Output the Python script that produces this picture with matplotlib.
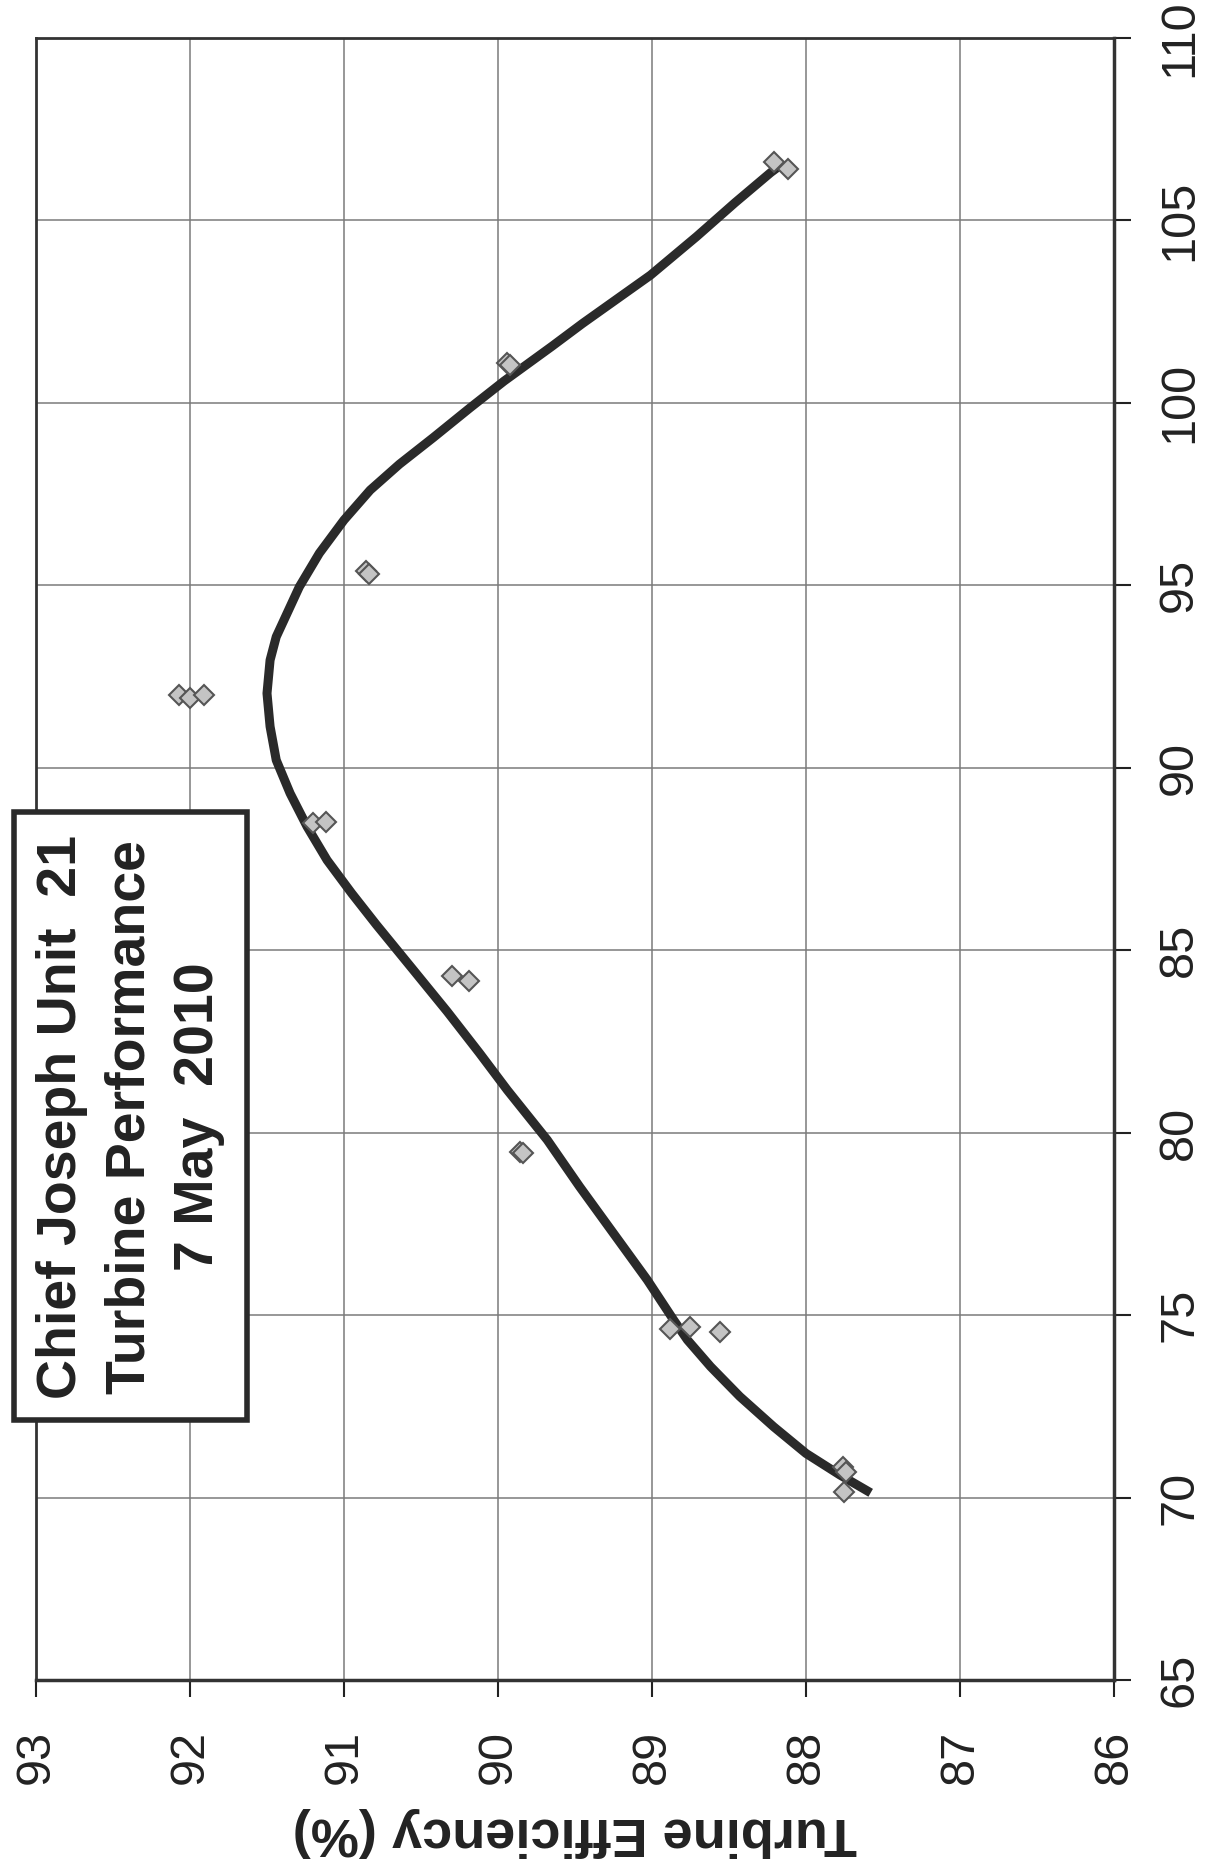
import matplotlib
matplotlib.use("Agg")
import matplotlib.pyplot as plt
from matplotlib.patches import Rectangle

# ---- data (load on the rotated vertical axis, efficiency on horizontal) ----
point_load = [92.0, 91.9, 92.0, 88.48, 88.52, 95.4, 95.3, 101.1, 101.05,
              106.6, 106.41, 84.3, 84.16, 79.48, 79.44, 74.61, 74.67, 74.53,
              70.85, 70.7, 70.16]
point_eff = [92.07, 92.0, 91.91, 91.20, 91.12, 90.86, 90.84, 89.94, 89.92,
             88.21, 88.12, 90.30, 90.19, 89.86, 89.84, 88.88, 88.75, 88.56,
             87.76, 87.74, 87.75]

curve_load = [70.13, 70.62, 71.21, 71.94, 72.77, 73.59, 74.32, 74.87, 75.96,
              77.24, 78.52, 79.80, 81.17, 82.18, 83.32, 84.46, 85.70, 86.56,
              87.47, 88.39, 89.30, 90.21, 91.13, 92.04, 92.95, 93.59, 94.96,
              95.88, 96.79, 97.61, 98.32, 99.05, 99.87, 100.60, 101.55,
              102.18, 103.50, 104.56, 105.49, 106.31, 106.50]
curve_eff = [87.58, 87.78, 88.00, 88.21, 88.43, 88.62, 88.77, 88.86, 89.03,
             89.25, 89.47, 89.68, 89.94, 90.12, 90.33, 90.55, 90.79, 90.95,
             91.11, 91.24, 91.35, 91.44, 91.48, 91.50, 91.48, 91.44, 91.29,
             91.16, 91.00, 90.83, 90.64, 90.42, 90.18, 89.96, 89.65,
             89.45, 89.01, 88.71, 88.46, 88.23, 88.17]

eff_ticks = [86, 87, 88, 89, 90, 91, 92, 93]
load_ticks = [65, 70, 75, 80, 85, 90, 95, 100, 105, 110]
eff_label = "Turbine Efficiency (%)"
title_lines = ["Chief Joseph Unit  21", "Turbine Performance", "7 May  2010"]

FONT = ["Liberation Sans", "DejaVu Sans"]

W, H = 1214, 1872
fig = plt.figure(figsize=(W / 100, H / 100), dpi=100)
ax = fig.add_axes([36 / W, 1 - 1680 / H, (1114 - 36) / W, (1680 - 38) / H])

ax.plot(curve_eff, curve_load, color="#2a2a2a", lw=6.5, solid_capstyle="butt",
        solid_joinstyle="round", zorder=3)
ax.plot(point_eff, point_load, linestyle="none", marker="D", markersize=10.5,
        markerfacecolor="#c4c4c4", markeredgecolor="#555555", markeredgewidth=1.5, zorder=4)

ax.set_xlim(93, 86)
ax.set_ylim(65, 110)
ax.set_xticks(eff_ticks)
ax.set_yticks(load_ticks)
ax.yaxis.tick_right()
ax.grid(True, color="#7a7a7a", lw=1.1)
ax.set_axisbelow(True)

ax.tick_params(axis="both", direction="out", length=12, width=1.5, colors="#222222")
ax.tick_params(axis="x", pad=24)
ax.tick_params(axis="y", pad=19)
for lab in ax.get_xticklabels():
    lab.set_rotation(90)
    lab.set_fontsize(35)
    lab.set_family(FONT)
    lab.set_color("#222222")
    lab.set_va("top")
    lab.set_ha("center")
for lab in ax.get_yticklabels():
    lab.set_rotation(90)
    lab.set_fontsize(35)
    lab.set_family(FONT)
    lab.set_color("#222222")
    lab.set_va("center")
    lab.set_ha("left")

for side, lw in [("left", 2.0), ("top", 2.0), ("right", 2.5), ("bottom", 2.5)]:
    ax.spines[side].set_linewidth(lw)
    ax.spines[side].set_color("#333333")

fig.text(575 / W, 1 - 1832 / H, eff_label, rotation=180, ha="center", va="center",
         fontsize=39, fontweight="bold", family=FONT, color="#222222")

# title box
box = Rectangle((14 / W, 1 - 1420 / H), (247 - 14) / W, (1420 - 812) / H,
                transform=fig.transFigure, facecolor="white", edgecolor="#2a2a2a",
                lw=4, zorder=5)
fig.add_artist(box)
for xc, line in zip([62, 131, 199], title_lines):
    fig.text(xc / W, 1 - 1117 / H, line, rotation=90, ha="center", va="center",
             fontsize=40, fontweight="bold", family=FONT, color="#222222", zorder=6)

fig.savefig("out.png", dpi=100)
